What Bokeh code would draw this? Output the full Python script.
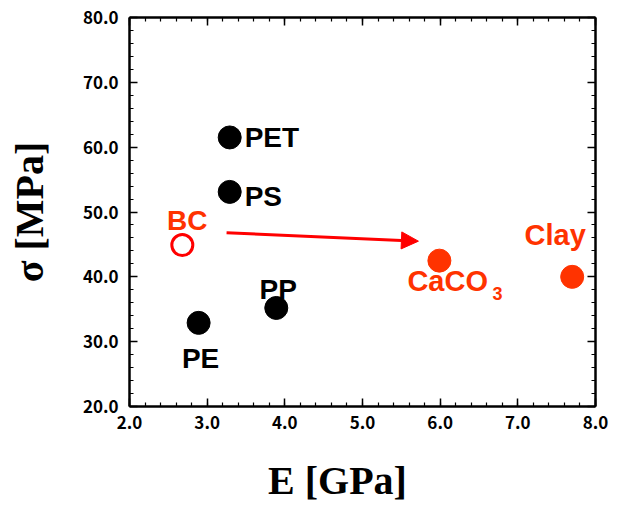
from bokeh.plotting import figure
from bokeh.models import (Range1d, LinearAxis, SingleIntervalTicker,
                          PrintfTickFormatter, CustomJSTickFormatter, Arrow, NormalHead,
                          ColumnDataSource)
from bokeh.core.properties import value
from bokeh.embed import file_html
from bokeh.resources import INLINE

# ---- data ----
polymers = ["PET", "PS", "PP", "PE"]
polymer_E = [3.29, 3.29, 3.89, 2.89]
polymer_sigma = [61.5, 53.1, 35.2, 32.9]

fillers = ["CaCO3", "Clay"]
filler_E = [5.99, 7.70]
filler_sigma = [42.5, 40.0]

bc_name = ["BC"]
bc_E = [2.68]
bc_sigma = [44.9]

arrow_E = [3.25, 5.72]
arrow_sigma = [46.8, 45.5]

x_ticks = [2.0, 3.0, 4.0, 5.0, 6.0, 7.0, 8.0]
y_ticks = [20.0, 30.0, 40.0, 50.0, 60.0, 70.0, 80.0]

x_title = "E [GPa]"
y_title = "σ [MPa]"

BLACK = "#000000"
ORANGE = "#FF3300"
RED = "#FF0000"

p = figure(width=621, height=505, output_backend="svg", toolbar_location=None,
           x_range=Range1d(x_ticks[0], x_ticks[-1]), y_range=Range1d(y_ticks[0], y_ticks[-1]),
           min_border_left=129, min_border_right=26, min_border_top=17, min_border_bottom=98,
           x_axis_location=None, y_axis_location=None)
p.grid.visible = False
p.outline_line_color = None
p.background_fill_color = "white"
p.border_fill_color = "white"

def make_axis(interval, label=None, show_labels=True):
    fmt = PrintfTickFormatter(format="%.1f") if show_labels else CustomJSTickFormatter(code="return ''")
    ax = LinearAxis(ticker=SingleIntervalTicker(interval=interval, num_minor_ticks=5), formatter=fmt)
    ax.axis_line_width = 2.5
    ax.axis_line_color = BLACK
    ax.major_tick_in = 8
    ax.major_tick_out = 0
    ax.minor_tick_in = 4
    ax.minor_tick_out = 0
    ax.major_tick_line_width = 1.5
    ax.minor_tick_line_width = 1.2
    ax.major_tick_line_color = BLACK
    ax.minor_tick_line_color = BLACK
    if show_labels:
        ax.major_label_text_font = "Noto Sans CJK JP"
        ax.major_label_text_font_style = "bold"
        ax.major_label_text_font_size = "17px"
        ax.major_label_text_color = BLACK
    else:
        ax.major_label_standoff = 0
    if label:
        ax.axis_label = label
        ax.axis_label_text_font = "Liberation Serif"
        ax.axis_label_text_font_style = "bold"
        ax.axis_label_text_font_size = "40px"
        ax.axis_label_text_color = BLACK
    return ax

# trailing no-break spaces shift the centred title a little left, as in the reference
xb = make_axis(x_ticks[1] - x_ticks[0], x_title + "\u00a0" * 5)
xb.major_label_standoff = 9
xb.axis_label_standoff = 26
p.add_layout(xb, "below")

yl = make_axis(y_ticks[1] - y_ticks[0], y_title)
yl.major_label_standoff = 11
yl.axis_label_standoff = 28
p.add_layout(yl, "left")

xt = make_axis(x_ticks[1] - x_ticks[0], show_labels=False)
p.add_layout(xt, "above")
yr = make_axis(y_ticks[1] - y_ticks[0], show_labels=False)
p.add_layout(yr, "right")

# arrow
p.add_layout(Arrow(x_start=arrow_E[0], y_start=arrow_sigma[0], x_end=arrow_E[1], y_end=arrow_sigma[1],
                   line_color=RED, line_width=3,
                   end=NormalHead(size=17, fill_color=RED, line_color=RED, line_width=1)))

# points
p.scatter(polymer_E, polymer_sigma, size=23, fill_color=BLACK, line_color=BLACK)
p.scatter(filler_E, filler_sigma, size=23, fill_color=ORANGE, line_color=ORANGE)
p.scatter(bc_E, bc_sigma, size=21, fill_color=None, line_color=RED, line_width=3)

FONT = value("Liberation Sans")

# polymer labels
poly_off = {"PET": (15, 0, "left"), "PS": (15, 5, "left"), "PP": (2, -18, "center"), "PE": (2, 36, "center")}
src_p = ColumnDataSource(dict(x=polymer_E, y=polymer_sigma, t=polymers,
                              dx=[poly_off[n][0] for n in polymers],
                              dy=[poly_off[n][1] for n in polymers],
                              al=[poly_off[n][2] for n in polymers]))
p.text(x="x", y="y", text="t", x_offset="dx", y_offset="dy", text_align="al", source=src_p,
       text_baseline="middle", text_font=FONT, text_font_style="bold",
       text_font_size="28px", text_color=BLACK)

# BC label
p.text(x=bc_E, y=bc_sigma, text=bc_name, x_offset=5, y_offset=-25, text_align="center",
       text_baseline="middle", text_font=FONT, text_font_style="bold",
       text_font_size="28px", text_color=ORANGE)

# filler labels (trailing digit drawn as subscript)
main = [n.rstrip("0123456789") for n in fillers]
subs = [n[len(m):] for n, m in zip(fillers, main)]
fill_off = {"CaCO3": (-32, 20, "left"), "Clay": (-17, -42, "center")}
src_f = ColumnDataSource(dict(x=filler_E, y=filler_sigma, t=main,
                              dx=[fill_off[n][0] for n in fillers],
                              dy=[fill_off[n][1] for n in fillers],
                              al=[fill_off[n][2] for n in fillers]))
p.text(x="x", y="y", text="t", x_offset="dx", y_offset="dy", text_align="al", source=src_f,
       text_baseline="middle", text_font=FONT, text_font_style="bold",
       text_font_size="29px", text_color=ORANGE)
sub_idx = [i for i, s in enumerate(subs) if s]
p.text(x=[filler_E[i] for i in sub_idx], y=[filler_sigma[i] for i in sub_idx],
       text=[subs[i] for i in sub_idx], x_offset=53, y_offset=33, text_align="left",
       text_baseline="middle", text_font=FONT, text_font_style="bold",
       text_font_size="18px", text_color=ORANGE)

open("out.html", "w").write(file_html(p, INLINE))
